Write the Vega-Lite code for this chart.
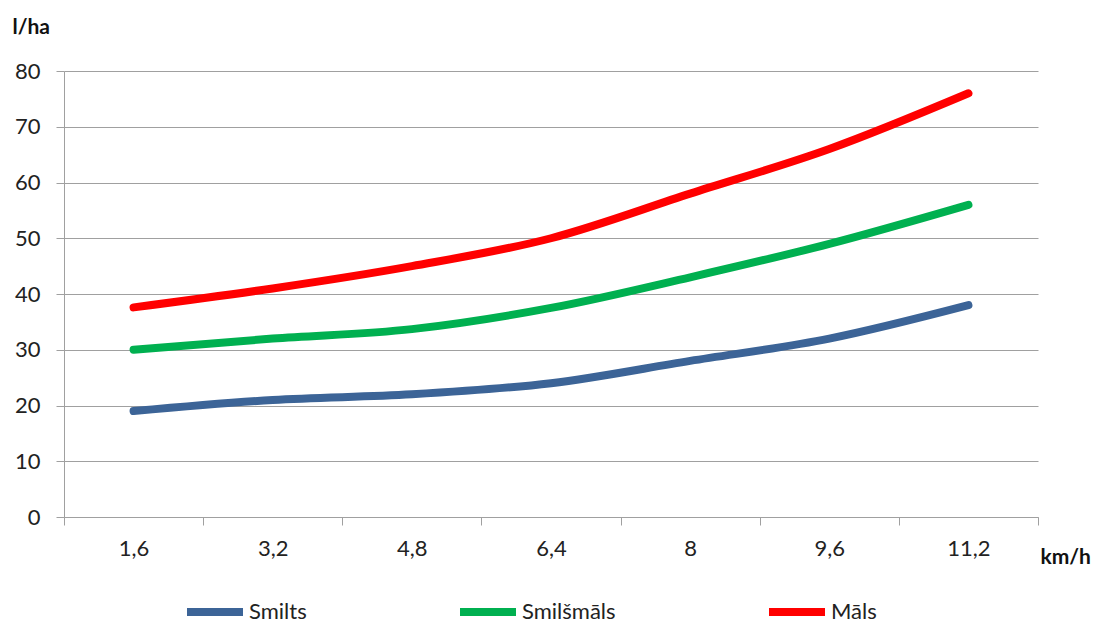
{
  "$schema": "https://vega.github.io/schema/vega-lite/v6.json",
  "autosize": "none",
  "width": 974,
  "height": 446,
  "padding": {"left": 64, "top": 71, "right": 63, "bottom": 107},
  "background": "white",
  "config": {"view": {"stroke": null}, "font": "Lato"},
  "data": {"values": [
    {"v": "1,6", "s": "Smilts", "y": 19},
    {"v": "3,2", "s": "Smilts", "y": 21},
    {"v": "4,8", "s": "Smilts", "y": 22},
    {"v": "6,4", "s": "Smilts", "y": 24},
    {"v": "8", "s": "Smilts", "y": 28},
    {"v": "9,6", "s": "Smilts", "y": 32},
    {"v": "11,2", "s": "Smilts", "y": 38},
    {"v": "1,6", "s": "Smilšmāls", "y": 30},
    {"v": "3,2", "s": "Smilšmāls", "y": 32},
    {"v": "4,8", "s": "Smilšmāls", "y": 33.7},
    {"v": "6,4", "s": "Smilšmāls", "y": 37.5},
    {"v": "8", "s": "Smilšmāls", "y": 43},
    {"v": "9,6", "s": "Smilšmāls", "y": 49},
    {"v": "11,2", "s": "Smilšmāls", "y": 56},
    {"v": "1,6", "s": "Māls", "y": 37.6},
    {"v": "3,2", "s": "Māls", "y": 41},
    {"v": "4,8", "s": "Māls", "y": 45},
    {"v": "6,4", "s": "Māls", "y": 50},
    {"v": "8", "s": "Māls", "y": 58},
    {"v": "9,6", "s": "Māls", "y": 66},
    {"v": "11,2", "s": "Māls", "y": 76}
  ]},
  "mark": {"type": "line", "strokeWidth": 8, "strokeCap": "round", "strokeJoin": "round", "interpolate": "monotone"},
  "encoding": {
    "x": {
      "field": "v", "type": "ordinal", "sort": null,
      "scale": {"type": "band", "paddingInner": 0, "paddingOuter": 0},
      "axis": {
        "title": "km/h", "titleFont": "Lato", "titleFontSize": 21, "titleFontWeight": "bold", "titleColor": "#111",
        "titleX": 976, "titleY": 40, "titleAlign": "left", "titleBaseline": "middle", "titleAnchor": null,
        "labelAngle": 0, "labelFontSize": 22, "labelColor": "#222", "labelPadding": 13,
        "tickBand": "extent", "tickSize": 8, "tickColor": "#a0a0a0", "domainColor": "#a0a0a0", "grid": false
      }
    },
    "y": {
      "field": "y", "type": "quantitative",
      "scale": {"domain": [0, 80], "nice": false},
      "axis": {
        "title": "l/ha", "titleFont": "Lato", "titleFontSize": 21, "titleFontWeight": "bold", "titleColor": "#111",
        "titleAngle": 0, "titleX": -52, "titleY": -44, "titleAlign": "left", "titleBaseline": "middle",
        "values": [0, 10, 20, 30, 40, 50, 60, 70, 80],
        "labelFontSize": 22, "labelColor": "#222", "labelPadding": 16,
        "tickSize": 8, "tickColor": "#a0a0a0", "domainColor": "#a0a0a0",
        "grid": true, "gridColor": "#a0a0a0", "gridOpacity": 1
      }
    },
    "color": {
      "field": "s", "type": "nominal",
      "scale": {"domain": ["Smilts", "Smilšmāls", "Māls"], "range": ["#3c6497", "#00b050", "#ff0000"]},
      "legend": {
        "title": null, "orient": "none", "direction": "horizontal",
        "legendX": 119, "legendY": 509,
        "symbolType": "stroke", "symbolSize": 3136, "symbolStrokeWidth": 8,
        "labelFontSize": 22, "labelColor": "#222", "labelOffset": 2, "columnPadding": 137
      }
    }
  }
}
